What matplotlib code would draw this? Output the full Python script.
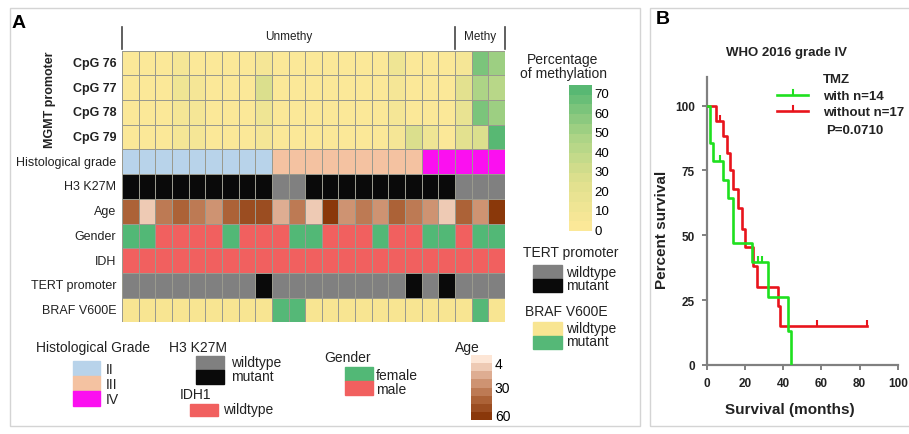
import numpy as np
import matplotlib
matplotlib.use("Agg")
import matplotlib.pyplot as plt
from matplotlib.colors import LinearSegmentedColormap, ListedColormap, Normalize
from matplotlib.lines import Line2D
from matplotlib.patches import Rectangle
from matplotlib.cm import ScalarMappable

plt.rcParams['font.family'] = ['Liberation Sans', 'DejaVu Sans']

# ---------------- data: panel A ----------------
cpg_labels = ['CpG 76', 'CpG 77', 'CpG 78', 'CpG 79']
cpg76 = [4, 4, 4, 9, 4, 4, 4, 4, 6, 4, 4, 4, 4, 4, 4, 4, 10, 4, 4, 4, 7, 60, 50]
cpg77 = [4, 4, 4, 10, 5, 4, 4, 4, 28, 4, 4, 4, 4, 4, 4, 4, 5, 4, 4, 4, 22, 45, 40]
cpg78 = [4, 4, 4, 8, 5, 4, 4, 4, 14, 4, 4, 4, 4, 4, 4, 4, 5, 4, 4, 4, 15, 60, 50]
cpg79 = [4, 4, 4, 8, 5, 4, 4, 4, 6, 4, 4, 4, 4, 4, 4, 4, 6, 28, 12, 4, 22, 28, 72]
grade = ['II', 'II', 'II', 'II', 'II', 'II', 'II', 'II', 'II',
         'III', 'III', 'III', 'III', 'III', 'III', 'III', 'III', 'III',
         'IV', 'IV', 'IV', 'IV', 'IV']
h3k27m = ['mutant'] * 9 + ['wildtype', 'wildtype'] + ['mutant'] * 9 + ['wildtype'] * 3
age = [48, 6, 38, 40, 36, 28, 46, 52, 56, 14, 34, 6, 60, 30, 34, 28, 46, 32, 30, 10, 48, 30, 60]
gender = ['female', 'female', 'male', 'male', 'male', 'male', 'female', 'male', 'male', 'male',
          'female', 'female', 'male', 'male', 'male', 'female', 'male', 'male', 'female', 'female',
          'male', 'female', 'female']
idh = ['wildtype'] * 23
tert = ['wildtype', 'wildtype', 'wildtype', 'wildtype', 'wildtype', 'wildtype', 'wildtype', 'wildtype',
        'mutant', 'wildtype', 'wildtype', 'wildtype', 'wildtype', 'wildtype', 'wildtype', 'wildtype',
        'wildtype', 'mutant', 'wildtype', 'mutant', 'wildtype', 'wildtype', 'wildtype']
braf = ['wildtype'] * 9 + ['mutant', 'mutant'] + ['wildtype'] * 10 + ['mutant', 'wildtype']
row_labels = ['Histological grade', 'H3 K27M', 'Age', 'Gender', 'IDH', 'TERT promoter', 'BRAF V600E']
n_unmethy = 20

# ---------------- data: panel B ----------------
with_t = [0, 1.7, 3.5, 8.7, 11.3, 14, 23.5, 32, 42.5, 44]
with_s = [100, 85.7, 78.6, 71.4, 64.3, 47.2, 39.6, 26.2, 13.1, 0]
with_cens_t = [7, 27, 29]
with_cens_s = [78.6, 39.6, 39.6]
without_t = [0, 5, 8.5, 10.5, 12, 14, 16.5, 18.5, 20, 24.5, 26.5, 37.5, 38.5, 84]
without_s = [100, 94.1, 88.2, 81.6, 75, 68, 60.5, 52.5, 45.4, 38.3, 30, 22.7, 15, 15]
without_cens_t = [7, 58, 84]
without_cens_s = [94.1, 15, 15]

# ---------------- colours ----------------
meth_cmap = LinearSegmentedColormap.from_list(
    'meth', ['#fbe898', '#dfe08e', '#a9d385', '#58b873'], N=15)
meth_norm = Normalize(0, 75)
age_cmap = LinearSegmentedColormap.from_list(
    'age', ['#fde6d6', '#d9a487', '#b2693f', '#8a380a'], N=8)
age_norm = Normalize(-4, 66)
grade_colors = {'II': '#b8d3ea', 'III': '#f4c2a1', 'IV': '#fb10f0'}
h3_colors = {'wildtype': '#808080', 'mutant': '#0a0a0a'}
gender_colors = {'female': '#52b876', 'male': '#f1605f'}
idh_colors = {'wildtype': '#f1605f'}
tert_colors = {'wildtype': '#808080', 'mutant': '#0a0a0a'}
braf_colors = {'wildtype': '#f8e592', 'mutant': '#55b877'}

W, H = 909, 435
fig = plt.figure(figsize=(W / 100, H / 100), dpi=100)


def rect(x0, y0, x1, y1):
    return [x0 / W, 1 - y1 / H, (x1 - x0) / W, (y1 - y0) / H]


def ftext(x, y, s, **kw):
    kw.setdefault('va', 'center')
    return fig.text(x / W, 1 - y / H, s, **kw)


def fline(xs, ys, **kw):
    fig.add_artist(Line2D([x / W for x in xs], [1 - y / H for y in ys], **kw))


# panel frames
for (x0, y0, x1, y1) in [(10, 9, 640, 427), (650, 9, 915, 427)]:
    fig.add_artist(Rectangle((x0 / W, 1 - y1 / H), (x1 - x0) / W, (y1 - y0) / H,
                             transform=fig.transFigure, fill=False,
                             edgecolor='#d4d4d4', linewidth=1.0))

ftext(12, 24, 'A', fontsize=14, fontweight='bold', ha='left')
ftext(656, 20, 'B', fontsize=14, fontweight='bold', ha='left')

# ---------------- heatmap ----------------
ax = fig.add_axes(rect(122, 51.7, 505, 323.3))
ncol = len(grade)
xe = np.arange(ncol + 1)
edge = dict(edgecolors='#9a9a8e', linewidth=0.6)

for r, vals in enumerate([cpg76, cpg77, cpg78, cpg79]):
    ax.pcolormesh(xe, [r, r + 1], np.array(vals, float)[None, :],
                  cmap=meth_cmap, norm=meth_norm, **edge)


def cat_row(r, vals, cmap_dict):
    keys = list(cmap_dict.keys())
    idx = np.array([keys.index(v) for v in vals], float)[None, :]
    ax.pcolormesh(xe, [r, r + 1], idx, cmap=ListedColormap(list(cmap_dict.values())),
                  vmin=-0.5, vmax=len(keys) - 0.5, **edge)


cat_row(4, grade, grade_colors)
cat_row(5, h3k27m, h3_colors)
ax.pcolormesh(xe, [6, 7], np.array(age, float)[None, :], cmap=age_cmap, norm=age_norm, **edge)
cat_row(7, gender, gender_colors)
cat_row(8, idh, idh_colors)
cat_row(9, tert, tert_colors)
cat_row(10, braf, braf_colors)
ax.set_xlim(0, ncol)
ax.set_ylim(11, 0)
ax.axis('off')

for r, lab in enumerate(cpg_labels):
    ax.text(-0.35, r + 0.5, lab, ha='right', va='center', fontsize=9, fontweight='bold',
            color='#222222')
for r, lab in enumerate(row_labels):
    ax.text(-0.35, r + 4.5, lab, ha='right', va='center', fontsize=9, color='#222222')
ftext(50, 100, 'MGMT promoter', rotation=90, ha='center', fontsize=9, fontweight='bold',
      color='#222222')

# group markers on top
x_um = 122 + n_unmethy * 383 / ncol
for xx in [122, x_um, 505]:
    fline([xx, xx], [28, 50], color='#444444', linewidth=1.2)
ftext((122 + x_um) / 2, 37, 'Unmethy', ha='center', fontsize=8.5, color='#222222')
ftext((x_um + 505) / 2, 37, 'Methy', ha='center', fontsize=8.5, color='#222222')

# methylation colorbar
ftext(563, 60, 'Percentage', ha='center', fontsize=10, color='#222222')
ftext(563, 74, 'of methylation', ha='center', fontsize=10, color='#222222')
cax = fig.add_axes(rect(569, 86, 592, 232))
cb = fig.colorbar(ScalarMappable(norm=Normalize(-1, 74), cmap=meth_cmap), cax=cax,
                  ticks=[0, 10, 20, 30, 40, 50, 60, 70])
cb.outline.set_visible(False)
cax.tick_params(length=0, pad=2, labelsize=9.5)

# TERT legend
ftext(523, 253, 'TERT promoter', ha='left', fontsize=10, color='#222222')
for i, (lab, col) in enumerate(tert_colors.items()):
    y0 = 266 + i * 13.5
    fig.add_artist(Rectangle((533 / W, 1 - (y0 + 13.5) / H), 29 / W, 13.5 / H,
                             transform=fig.transFigure, color=col))
    ftext(566, y0 + 7, lab, ha='left', fontsize=10, color='#222222')

# BRAF legend
ftext(525, 312, 'BRAF V600E', ha='left', fontsize=10, color='#222222')
for i, (lab, col) in enumerate(braf_colors.items()):
    y0 = 323 + i * 13.5
    fig.add_artist(Rectangle((533 / W, 1 - (y0 + 13.5) / H), 29 / W, 13.5 / H,
                             transform=fig.transFigure, color=col))
    ftext(566, y0 + 6, lab, ha='left', fontsize=10, color='#222222')

# bottom legends
ftext(36, 348, 'Histological Grade', ha='left', fontsize=10, color='#222222')
for i, (lab, col) in enumerate(grade_colors.items()):
    y0 = 362 + i * 15
    fig.add_artist(Rectangle((73 / W, 1 - (y0 + 15) / H), 27 / W, 15 / H,
                             transform=fig.transFigure, color=col))
    ftext(106, y0 + 8, lab, ha='left', fontsize=10, color='#222222')

ftext(169, 348, 'H3 K27M', ha='left', fontsize=10, color='#222222')
for i, (lab, col) in enumerate(h3_colors.items()):
    y0 = 357 + i * 14
    fig.add_artist(Rectangle((196 / W, 1 - (y0 + 14) / H), 28 / W, 14 / H,
                             transform=fig.transFigure, color=col))
    ftext(231, y0 + 6, lab, ha='left', fontsize=10, color='#222222')

ftext(180, 395, 'IDH1', ha='left', fontsize=10, color='#222222')
fig.add_artist(Rectangle((190 / W, 1 - 417 / H), 28 / W, 12 / H,
                         transform=fig.transFigure, color=idh_colors['wildtype']))
ftext(223, 410, 'wildtype', ha='left', fontsize=10, color='#222222')

ftext(324, 358, 'Gender', ha='left', fontsize=10, color='#222222')
for i, (lab, col) in enumerate(gender_colors.items()):
    y0 = 368 + i * 14
    fig.add_artist(Rectangle((345 / W, 1 - (y0 + 14) / H), 28 / W, 14 / H,
                             transform=fig.transFigure, color=col))
    ftext(376, y0 + 8, lab, ha='left', fontsize=10, color='#222222')

ftext(455, 348, 'Age', ha='left', fontsize=10, color='#222222')
cax2 = fig.add_axes(rect(471, 356, 492, 421))
cb2 = fig.colorbar(ScalarMappable(norm=age_norm, cmap=age_cmap), cax=cax2, ticks=[4, 30, 60])
cb2.outline.set_visible(False)
cax2.invert_yaxis()
cax2.tick_params(length=0, pad=2, labelsize=10)

# ---------------- panel B: KM ----------------
axk = fig.add_axes(rect(706.7, 78, 897.7, 366))
green = '#1fe01f'
red = '#e8141c'
axk.step(without_t, without_s, where='post', color=red, linewidth=1.9, zorder=3)
axk.step(with_t, with_s, where='post', color=green, linewidth=1.9, zorder=4)
axk.plot(without_cens_t, np.array(without_cens_s) + 1.2, linestyle='none', marker='|',
         markersize=5, markeredgewidth=1.5, color=red, zorder=3)
axk.plot(with_cens_t, np.array(with_cens_s) + 1.2, linestyle='none', marker='|',
         markersize=5, markeredgewidth=1.5, color=green, zorder=4)
axk.set_xlim(0, 100)
axk.set_ylim(0, 111)
axk.set_xticks([0, 20, 40, 60, 80, 100])
axk.set_yticks([0, 25, 50, 75, 100])
for s in ['top', 'right']:
    axk.spines[s].set_visible(False)
for s in ['left', 'bottom']:
    axk.spines[s].set_color('#808080')
    axk.spines[s].set_linewidth(1.6)
axk.tick_params(direction='out', length=3.5, width=1.4, color='#808080',
                labelsize=8.5, pad=5)
for t in axk.get_xticklabels() + axk.get_yticklabels():
    t.set_fontweight('bold')
    t.set_color('#222222')
for sp in axk.spines.values():
    sp.set_clip_on(False)
axk.patch.set_visible(False)

ftext(786, 53, 'WHO 2016 grade IV', ha='center', fontsize=9.5, fontweight='bold', color='#222222')
ftext(790, 410, 'Survival (months)', ha='center', fontsize=11, fontweight='bold', color='#222222')
ftext(662, 230, 'Percent survival', ha='center', rotation=90, fontsize=11, fontweight='bold',
      color='#222222')

# KM legend
ftext(823, 80, 'TMZ', ha='left', fontsize=9.5, fontweight='bold', color='#222222')
for y, col, lab in [(96, green, 'with n=14'), (112, red, 'without n=17')]:
    fline([777, 808], [y, y], color=col, linewidth=1.9)
    fline([792.5, 792.5], [y, y - 5], color=col, linewidth=1.5)
    ftext(823, y + 1, lab, ha='left', fontsize=9.5, fontweight='bold', color='#222222')
ftext(826, 131, 'P=0.0710', ha='left', fontsize=9.5, fontweight='bold', color='#222222')

fig.savefig('out.png', dpi=100)
